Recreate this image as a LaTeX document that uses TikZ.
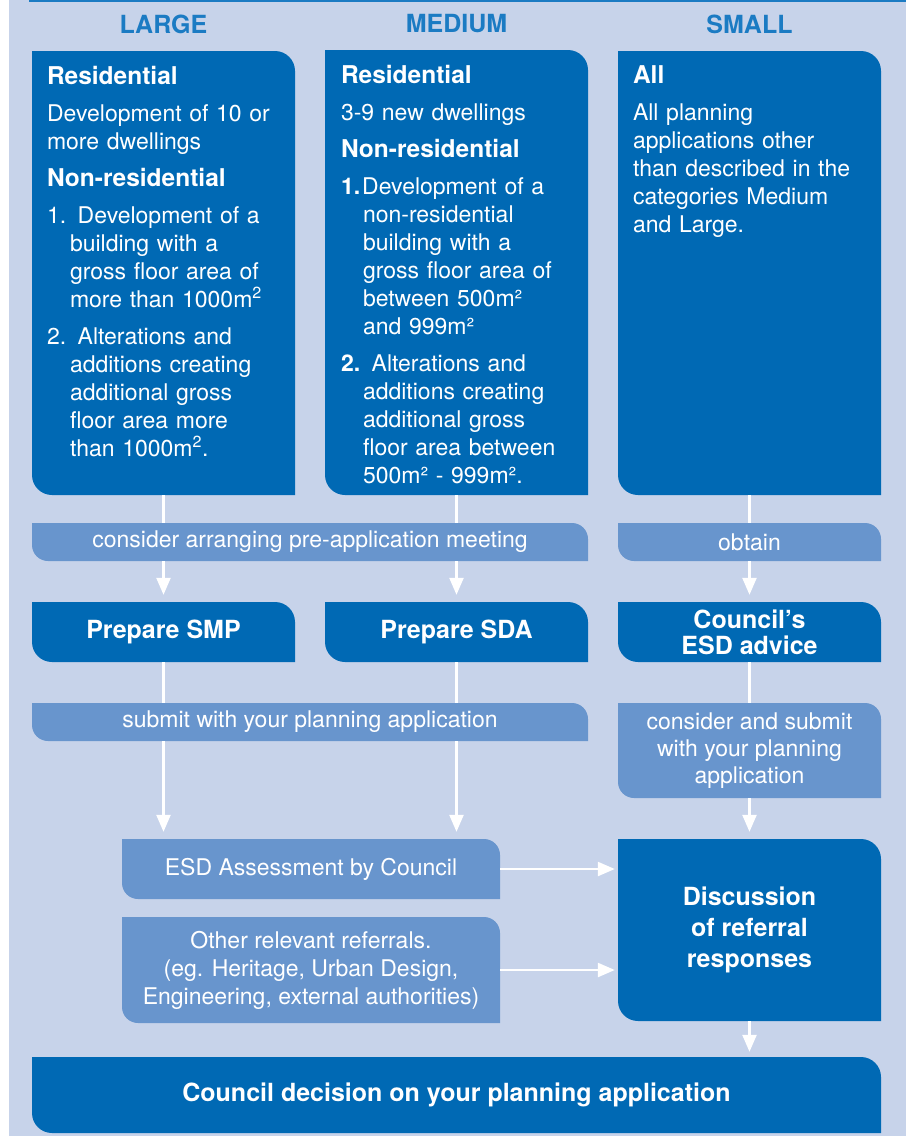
\documentclass[tikz,border=0pt]{standalone}
\usepackage{fontspec}
\setmainfont{TeX Gyre Heros}
\usetikzlibrary{arrows.meta}

\definecolor{pagebg}{RGB}{199,211,234}
\definecolor{boxblue}{RGB}{0,105,180}
\definecolor{bandblue}{RGB}{104,149,205}
\definecolor{headblue}{RGB}{27,123,195}

\newcommand{\bodyfont}{\fontsize{23}{28}\selectfont}
\newcommand{\boldfont}{\fontsize{25}{31}\selectfont\bfseries}
\newcommand{\subhead}[1]{{\fontsize{24.5}{28}\selectfont\bfseries #1}\par}

\tikzset{
  tab/.style 2 args={rectangle, inner sep=0pt, text=white,
    path picture={\fill[#1] (path picture bounding box.north west)
      -- ([xshift=-#2]path picture bounding box.north east)
      arc[start angle=90, end angle=0, radius=#2]
      -- (path picture bounding box.south east)
      -- ([xshift=#2]path picture bounding box.south west)
      arc[start angle=270, end angle=180, radius=#2] -- cycle;}},
  head/.style={text=headblue, font=\fontsize{25}{30}\selectfont\bfseries},
  bigbox/.style={tab={boxblue}{20pt}, minimum width=263pt},
  boxtext/.style={anchor=north west, inner sep=0pt, text=white, text width=245pt,
    align=left, font={\bodyfont\parindent=0pt\parskip=9pt}},
  band/.style={tab={bandblue}{16pt}, align=center, font=\bodyfont},
  stepbox/.style={tab={boxblue}{20pt}, align=center, font=\boldfont},
  flow/.style={white, line width=2.4pt},
  arr/.style={flow, -{Triangle[width=14pt,length=17pt]}, shorten >=7pt}
}

\begin{document}
\begin{tikzpicture}[x=1pt,y=1pt]
  \useasboundingbox (0,0) rectangle (906,-1136);
  \fill[pagebg] (9,0) rectangle (906,-1136);
  \draw[headblue, line width=1.5pt] (29,-0.75) -- (906,-0.75);

  % column heads
  \node[head] (hlarge) at (163.5,-24) {LARGE};
  \node[head] (hmedium) at (456.5,-24) {MEDIUM};
  \node[head] (hsmall) at (749.5,-24) {SMALL};

  % categories
  \node[bigbox, minimum height=444pt] (large) at (163.5,-273) {};
  \node[bigbox, minimum height=445pt] (medium) at (456.5,-272.5) {};
  \node[bigbox, minimum height=444pt] (small) at (749.5,-273) {};

  \node[boxtext] (largetext) at ([shift={(15,-15)}]large.north west) {%
    \subhead{Residential}
    Development of 10 or\newline more dwellings\par
    \subhead{Non-residential}
    \hangindent=23pt 1. Development of a\newline building with a\newline
    gross floor area of\newline more than 1000m\textsuperscript{2}\par
    \hangindent=23pt 2. Alterations and\newline additions creating\newline
    additional gross\newline floor area more\newline than 1000m\textsuperscript{2}.\par};
  \node[boxtext] (mediumtext) at ([shift={(16,-15)}]medium.north west) {%
    \subhead{Residential}
    3-9 new dwellings\par
    \subhead{Non-residential}
    \hangindent=22pt {\bfseries 1.}\hspace{2pt}Development of a\newline non-residential\newline
    building with a\newline gross floor area of\newline between 500m²\newline and 999m²\par
    \hangindent=22pt {\bfseries 2.} Alterations and\newline additions creating\newline
    additional gross\newline floor area between\newline 500m² - 999m².\par};
  \node[boxtext] (smalltext) at ([shift={(15,-15)}]small.north west) {%
    \subhead{All}
    All planning\newline applications other\newline than described in the\newline
    categories Medium\newline and Large.\par};

  % steps
  \node[band, minimum width=556pt, minimum height=38pt] (premeet) at (310,-542)
    {consider arranging pre-application meeting};
  \node[band, minimum width=263pt, minimum height=38pt] (obtain) at (749.5,-542) {obtain};
  \node[stepbox, minimum width=263pt, minimum height=60pt] (smp) at (163.5,-632) {Prepare SMP};
  \node[stepbox, minimum width=263pt, minimum height=60pt] (sda) at (456.5,-632) {Prepare SDA};
  \node[stepbox, minimum width=263pt, minimum height=60pt, font=\fontsize{25}{26}\selectfont\bfseries]
    (advice) at (749.5,-632) {Council’s\\ESD advice};
  \node[band, minimum width=556pt, minimum height=38pt] (submit) at (310,-722)
    {submit with your planning application};
  \node[band, minimum width=263pt, minimum height=95pt, font=\fontsize{23}{27}\selectfont]
    (consider) at (749.5,-750.5) {consider and submit\\with your planning\\application};
  \node[band, minimum width=378pt, minimum height=60pt] (esd) at (311,-869)
    {ESD Assessment by Council};
  \node[band, minimum width=378pt, minimum height=106pt] (other) at (311,-970)
    {Other relevant referrals.\\(eg. Heritage, Urban Design,\\Engineering, external authorities)};
  \node[stepbox, minimum width=263pt, minimum height=182pt] (discuss) at (749.5,-930)
    {Discussion\\of referral\\responses};
  \node[stepbox, minimum width=849pt, minimum height=76pt] (decision) at (456.5,-1095)
    {Council decision on your planning application};

  % flow
  \draw[flow] (large.south) -- (large.south |- premeet.north);
  \draw[arr] (large.south |- premeet.south) -- (smp.north);
  \draw[flow] (medium.south) -- (medium.south |- premeet.north);
  \draw[arr] (medium.south |- premeet.south) -- (sda.north);
  \draw[flow] (small.south) -- (obtain.north);
  \draw[arr] (obtain.south) -- (advice.north);
  \draw[flow] (smp.south) -- (smp.south |- submit.north);
  \draw[arr] (smp.south |- submit.south) -- (smp.south |- esd.north);
  \draw[flow] (sda.south) -- (sda.south |- submit.north);
  \draw[arr] (sda.south |- submit.south) -- (sda.south |- esd.north);
  \draw[flow] (advice.south) -- (consider.north);
  \draw[arr] (consider.south) -- (discuss.north);
  \draw[arr, shorten >=3pt] (esd.east) -- (esd.east -| discuss.west);
  \draw[arr, shorten >=3pt] (other.east) -- (other.east -| discuss.west);
  \draw[arr, shorten >=5pt] (discuss.south) -- (discuss.south |- decision.north);
\end{tikzpicture}
\end{document}
